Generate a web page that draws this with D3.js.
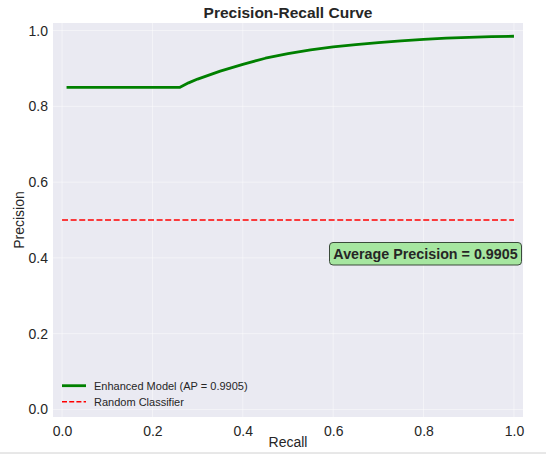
<!DOCTYPE html>
<html lang="en">
<head>
<meta charset="utf-8">
<title>Precision-Recall Curve</title>
<script src="https://cdn.jsdelivr.net/npm/d3@7"></script>
<style>
  body { margin: 0; background: #fff; }
  text { font-family: "Liberation Sans", Arial, sans-serif; fill: #262626; }
</style>
</head>
<body>
<script>
// values
var recall    = [0.01, 0.26, 0.28, 0.30, 0.35, 0.40, 0.45, 0.50, 0.55, 0.60, 0.65, 0.70, 0.75, 0.80, 0.85, 0.90, 0.95, 1.00];
var precision = [0.85, 0.85, 0.862, 0.872, 0.893, 0.911, 0.927, 0.939, 0.949, 0.957, 0.963, 0.968, 0.973, 0.977, 0.980, 0.982, 0.984, 0.985];
var baselineX = [0, 1];
var baselineY = [0.5, 0.5];
var ticks = [0, 0.2, 0.4, 0.6, 0.8, 1.0];
var seriesNames = ["Enhanced Model (AP = 0.9905)", "Random Classifier"];
var apText = "Average Precision = 0.9905";

var w = 550, h = 458;
var padL = 53, padR = 523, padT = 23, padB = 417;

var svg = d3.select("body").append("svg").attr("width", w).attr("height", h);

var xScale = d3.scaleLinear().domain([-0.02, 1.02]).range([padL, padR]);
var yScale = d3.scaleLinear().domain([-0.02, 1.02]).range([padB, padT]);

// plot background
svg.append("rect")
   .attr("x", padL).attr("y", padT)
   .attr("width", padR - padL).attr("height", padB - padT)
   .attr("fill", "#eaeaf2");

// grid
svg.append("g").selectAll("line").data(ticks).enter().append("line")
   .attr("x1", function(d) { return xScale(d); })
   .attr("x2", function(d) { return xScale(d); })
   .attr("y1", padT).attr("y2", padB)
   .attr("stroke", "#fff").attr("stroke-opacity", 0.45).attr("stroke-width", 1);
svg.append("g").selectAll("line").data(ticks).enter().append("line")
   .attr("y1", function(d) { return yScale(d); })
   .attr("y2", function(d) { return yScale(d); })
   .attr("x1", padL).attr("x2", padR)
   .attr("stroke", "#fff").attr("stroke-opacity", 0.45).attr("stroke-width", 1);

// axes (labels only, seaborn style has no spines/ticks)
var xAxis = svg.append("g")
   .attr("transform", "translate(0," + padB + ")")
   .call(d3.axisBottom(xScale).tickValues(ticks).tickFormat(d3.format(".1f")).tickSize(0).tickPadding(9));
var yAxis = svg.append("g")
   .attr("transform", "translate(" + padL + ",0)")
   .call(d3.axisLeft(yScale).tickValues(ticks).tickFormat(d3.format(".1f")).tickSize(0).tickPadding(5));
[xAxis, yAxis].forEach(function(a) {
  a.select(".domain").remove();
  a.selectAll("text").attr("font-size", "14px").attr("fill", "#262626")
   .attr("font-family", "Liberation Sans, Arial, sans-serif");
});

// random classifier
var line = d3.line()
   .x(function(d) { return xScale(d[0]); })
   .y(function(d) { return yScale(d[1]); });

svg.append("path")
   .datum(d3.zip(baselineX, baselineY))
   .attr("d", line)
   .attr("fill", "none")
   .attr("stroke", "#ff0000")
   .attr("stroke-width", 1.6)
   .attr("stroke-dasharray", "6,2.6");

// model curve
svg.append("path")
   .datum(d3.zip(recall, precision))
   .attr("d", line)
   .attr("fill", "none")
   .attr("stroke", "#008000")
   .attr("stroke-width", 2.8)
   .attr("stroke-linejoin", "round");

// annotation box
var ap = svg.append("g");
ap.append("rect")
   .attr("x", 329.5).attr("y", 242.5)
   .attr("width", 192).attr("height", 22.5)
   .attr("rx", 3.5)
   .attr("fill", "#a6e6a0")
   .attr("stroke", "#3a4a3a").attr("stroke-width", 1);
ap.append("text")
   .attr("x", 425.5).attr("y", 259)
   .attr("text-anchor", "middle")
   .attr("font-size", "14.3px").attr("font-weight", "bold")
   .attr("fill", "#1a1a1a")
   .text(apText);

// legend
var legend = svg.append("g");
var legendStyles = [
  { color: "#008000", width: 2.8, dash: null },
  { color: "#ff0000", width: 1.6, dash: "5,2.2" }
];
seriesNames.forEach(function(name, i) {
  var yy = 385.7 + i * 16;
  legend.append("line")
     .attr("x1", 62).attr("x2", 86)
     .attr("y1", yy).attr("y2", yy)
     .attr("stroke", legendStyles[i].color)
     .attr("stroke-width", legendStyles[i].width)
     .attr("stroke-dasharray", legendStyles[i].dash);
  legend.append("text")
     .attr("x", 94).attr("y", yy + 4)
     .attr("font-size", "11px")
     .text(name);
});

// titles
svg.append("text")
   .attr("x", (padL + padR) / 2).attr("y", 18)
   .attr("text-anchor", "middle")
   .attr("font-size", "15.5px").attr("font-weight", "bold")
   .text("Precision-Recall Curve");
svg.append("text")
   .attr("x", (padL + padR) / 2).attr("y", 447)
   .attr("text-anchor", "middle")
   .attr("font-size", "14px")
   .text("Recall");
svg.append("text")
   .attr("transform", "translate(24," + ((padT + padB) / 2) + ") rotate(-90)")
   .attr("text-anchor", "middle")
   .attr("font-size", "14px")
   .text("Precision");

// faint rule at the bottom edge, as in the reference
svg.append("line")
   .attr("x1", 0).attr("x2", 546)
   .attr("y1", 453).attr("y2", 453)
   .attr("stroke", "#d0d0d0").attr("stroke-width", 1);
</script>
</body>
</html>
